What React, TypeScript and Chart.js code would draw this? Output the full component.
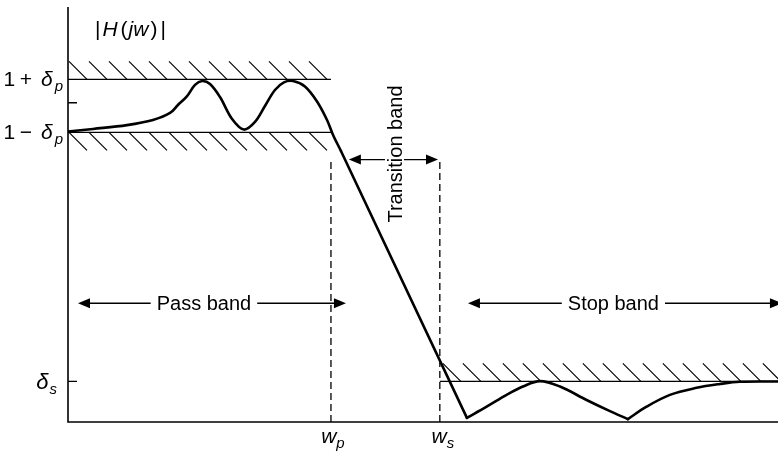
import React, { useEffect, useRef } from "react";
import { Chart, registerables } from "chart.js";

Chart.register(...registerables);

// ---- scale extents (normalised frequency / magnitude) ----
const X_MAX = 2.7;
const Y_MAX = 1.3;

// ---- specification levels ----
const passUpper = 1.073; // 1 + δp
const passLower = 0.907; // 1 − δp
const unityTick = 1.0;
const stopLevel = 0.127; // δs
const wp = 1.0;
const ws = 1.414;
const markerTop = 0.822; // top of the dashed w_p / w_s markers (transition arrow level)
const bandArrowLevel = 0.372; // level of pass / stop band arrows

// ---- response curve ----
const passX = [0, 0.095, 0.224, 0.323, 0.388, 0.418, 0.452, 0.483, 0.51, 0.54, 0.578, 0.624, 0.669, 0.711, 0.749, 0.787, 0.821, 0.856, 0.901, 0.947, 0.985, 1.008, 1.038];
const passY = [0.91, 0.918, 0.93, 0.946, 0.968, 0.993, 1.02, 1.056, 1.068, 1.059, 1.018, 0.949, 0.916, 0.94, 0.99, 1.04, 1.064, 1.068, 1.051, 1.004, 0.946, 0.899, 0.849];
const transX = [1.038, 1.517];
const transY = [0.849, 0.013];
const stop1X = [1.517, 1.592, 1.668, 1.73, 1.795, 1.871, 1.972, 2.061, 2.129];
const stop1Y = [0.013, 0.048, 0.085, 0.111, 0.128, 0.111, 0.069, 0.034, 0.009];
const stop2X = [2.129, 2.2, 2.289, 2.39, 2.479, 2.555, 2.7];
const stop2Y = [0.009, 0.048, 0.085, 0.107, 0.119, 0.126, 0.127];

// ---- annotations ----
const passArrow = { from: 0.038, to: 1.057, label: "Pass band", labelAt: 0.517 };
const stopArrow = { from: 1.521, to: 2.715, label: "Stop band", labelAt: 2.074 };
const transArrow = { from: 1.068, to: 1.407, label: "Transition band", labelX: 1.27, labelY: 0.8395 };

type Run = { t: string; it?: boolean; sub?: boolean; gap?: number };
const titleRuns: Run[] = [{ t: "|" }, { t: "H", it: true, gap: 2 }, { t: "(", gap: 3 }, { t: "jw", it: true, gap: 1 }, { t: ")", gap: 2 }, { t: "|", gap: 3 }];
const upperLabel: Run[] = [{ t: "1" }, { t: "+", gap: 4.5 }, { t: "δ", it: true, gap: 9 }, { t: "p", it: true, sub: true, gap: 2 }];
const lowerLabel: Run[] = [{ t: "1" }, { t: "−", gap: 4.5 }, { t: "δ", it: true, gap: 9 }, { t: "p", it: true, sub: true, gap: 2 }];
const stopLabel: Run[] = [{ t: "δ", it: true }, { t: "s", it: true, sub: true, gap: 1 }];
const wpLabel: Run[] = [{ t: "w", it: true }, { t: "p", it: true, sub: true }];
const wsLabel: Run[] = [{ t: "w", it: true }, { t: "s", it: true, sub: true }];

const FONT = '"Liberation Sans", Arial, Helvetica, sans-serif';

const pts = (xs: number[], ys: number[]) => xs.map((x, i) => ({ x, y: ys[i] }));

function drawRuns(ctx: CanvasRenderingContext2D, runs: Run[], x: number, y: number, align: "left" | "right" | "center", size = 21, subSize = 15, subShift = 5) {
  const fontOf = (r: Run) => `${r.it ? "italic " : ""}${r.sub ? subSize : size}px ${FONT}`;
  let total = 0;
  const widths = runs.map((r) => {
    ctx.font = fontOf(r);
    const w = ctx.measureText(r.t).width + (r.gap || 0);
    total += w;
    return w;
  });
  let cx = align === "left" ? x : align === "right" ? x - total : x - total / 2;
  ctx.textAlign = "left";
  ctx.textBaseline = "alphabetic";
  runs.forEach((r, i) => {
    ctx.font = fontOf(r);
    ctx.fillText(r.t, cx + (r.gap || 0), r.sub ? y + subShift : y);
    cx += widths[i];
  });
}

function arrowHead(ctx: CanvasRenderingContext2D, tipX: number, y: number, dir: number) {
  const len = 12, half = 5;
  ctx.beginPath();
  ctx.moveTo(tipX, y);
  ctx.lineTo(tipX - dir * len, y - half);
  ctx.lineTo(tipX - dir * len, y + half);
  ctx.closePath();
  ctx.fill();
}

function doubleArrow(ctx: CanvasRenderingContext2D, x1: number, x2: number, y: number) {
  ctx.lineWidth = 1.3;
  ctx.beginPath();
  ctx.moveTo(x1 + 6, y);
  ctx.lineTo(x2 - 6, y);
  ctx.stroke();
  arrowHead(ctx, x1, y, -1);
  arrowHead(ctx, x2, y, 1);
}

const diagramPlugin = {
  id: "diagram",
  beforeDraw(chart: any) {
    const { ctx, width, height } = chart;
    ctx.save();
    ctx.fillStyle = "#fff";
    ctx.fillRect(0, 0, width, height);
    ctx.restore();
  },
  afterDatasetsDraw(chart: any) {
    const { ctx, chartArea: a, scales } = chart;
    const px = (v: number) => scales.x.getPixelForValue(v);
    const py = (v: number) => scales.y.getPixelForValue(v);
    ctx.save();
    ctx.strokeStyle = "#000";
    ctx.fillStyle = "#000";

    // hatching
    ctx.lineWidth = 1.15;
    const H = 18;
    const hatch = (x0: number, xEnd: number, y: number, above: boolean) => {
      ctx.beginPath();
      for (let x = x0; x + H <= xEnd; x += 20) {
        if (above) {
          ctx.moveTo(x, y - H);
          ctx.lineTo(x + H, y);
        } else {
          ctx.moveTo(x, y);
          ctx.lineTo(x + H, y + H);
        }
      }
      ctx.stroke();
    };
    hatch(a.left + 1, px(wp) + 1, py(passUpper), true);
    hatch(a.left + 1, px(wp) + 1, py(passLower), false);
    hatch(px(ws) + 3, a.right + 40, py(stopLevel), true);

    // axes
    ctx.lineWidth = 1.6;
    ctx.beginPath();
    ctx.moveTo(a.left, a.top);
    ctx.lineTo(a.left, a.bottom);
    ctx.lineTo(a.right, a.bottom);
    ctx.stroke();
    ctx.lineWidth = 1.3;
    ctx.beginPath();
    [unityTick, stopLevel].forEach((v) => {
      ctx.moveTo(a.left, py(v));
      ctx.lineTo(a.left + 9, py(v));
    });
    ctx.stroke();

    // band arrows with labels
    const yb = py(bandArrowLevel);
    [passArrow, stopArrow].forEach((ar) => {
      doubleArrow(ctx, px(ar.from), px(ar.to), yb);
      ctx.font = `20px ${FONT}`;
      const w = ctx.measureText(ar.label).width;
      const cx = px(ar.labelAt);
      ctx.fillStyle = "#fff";
      ctx.fillRect(cx - w / 2 - 6, yb - 4, w + 12, 8);
      ctx.fillStyle = "#000";
      ctx.textAlign = "center";
      ctx.textBaseline = "alphabetic";
      ctx.fillText(ar.label, cx, yb + 7);
    });

    // transition band
    const yt = py(markerTop);
    doubleArrow(ctx, px(transArrow.from), px(transArrow.to), yt);
    const bx = px(transArrow.labelX);
    ctx.fillStyle = "#fff";
    ctx.fillRect(bx - 17, yt - 3, 19, 6);
    ctx.fillStyle = "#000";
    ctx.save();
    ctx.translate(bx, py(transArrow.labelY));
    ctx.rotate(-Math.PI / 2);
    ctx.font = `20px ${FONT}`;
    ctx.textAlign = "center";
    ctx.textBaseline = "alphabetic";
    ctx.fillText(transArrow.label, 0, 0);
    ctx.restore();

    // labels
    drawRuns(ctx, titleRuns, a.left + 27, 36, "left");
    drawRuns(ctx, upperLabel, a.left - 5, py(passUpper) + 7, "right");
    drawRuns(ctx, lowerLabel, a.left - 5, py(passLower) + 7, "right");
    drawRuns(ctx, stopLabel, a.left - 11, py(stopLevel) + 8, "right", 22);
    drawRuns(ctx, wpLabel, px(wp) + 2, a.bottom + 21, "center");
    drawRuns(ctx, wsLabel, px(ws) + 3, a.bottom + 21, "center");
    ctx.restore();
  },
};

export default function App() {
  const ref = useRef<HTMLCanvasElement | null>(null);
  useEffect(() => {
    if (!ref.current) return;
    const curve = { borderColor: "#000", borderWidth: 2.6, pointRadius: 0, showLine: true, borderCapStyle: "round", borderJoinStyle: "round" };
    const thin = { borderColor: "#000", borderWidth: 1.2, pointRadius: 0, showLine: true, tension: 0 };
    const dashed = { ...thin, borderWidth: 1.3, borderDash: [7, 4] };
    const chart = new Chart(ref.current, {
      type: "scatter",
      data: {
        datasets: [
          { ...curve, label: "pass", data: pts(passX, passY), tension: 0.35 },
          { ...curve, label: "transition", data: pts(transX, transY), tension: 0 },
          { ...curve, label: "stop1", data: pts(stop1X, stop1Y), tension: 0.35 },
          { ...curve, label: "stop2", data: pts(stop2X, stop2Y), tension: 0.35 },
          { ...thin, label: "1+dp", data: [{ x: 0, y: passUpper }, { x: wp, y: passUpper }] },
          { ...thin, label: "1-dp", data: [{ x: 0, y: passLower }, { x: wp, y: passLower }] },
          { ...thin, label: "ds", data: [{ x: ws, y: stopLevel }, { x: X_MAX, y: stopLevel }] },
          { ...dashed, label: "wp", data: [{ x: wp, y: 0 }, { x: wp, y: markerTop }] },
          { ...dashed, label: "ws", data: [{ x: ws, y: 0 }, { x: ws, y: markerTop }] },
        ] as any,
      },
      options: {
        responsive: false,
        animation: false,
        events: [],
        layout: { padding: { left: 68, top: 7, right: 0, bottom: 31 } },
        scales: {
          x: { type: "linear", min: 0, max: X_MAX, display: false },
          y: { type: "linear", min: 0, max: Y_MAX, display: false },
        },
        plugins: { legend: { display: false }, tooltip: { enabled: false } },
      },
      plugins: [diagramPlugin],
    } as any);
    return () => chart.destroy();
  }, []);
  return (
    <div style={{ position: "fixed", left: 0, top: 0, width: 778, height: 453, background: "#fff" }}>
      <canvas ref={ref} width={778} height={453} style={{ display: "block" }} />
    </div>
  );
}
